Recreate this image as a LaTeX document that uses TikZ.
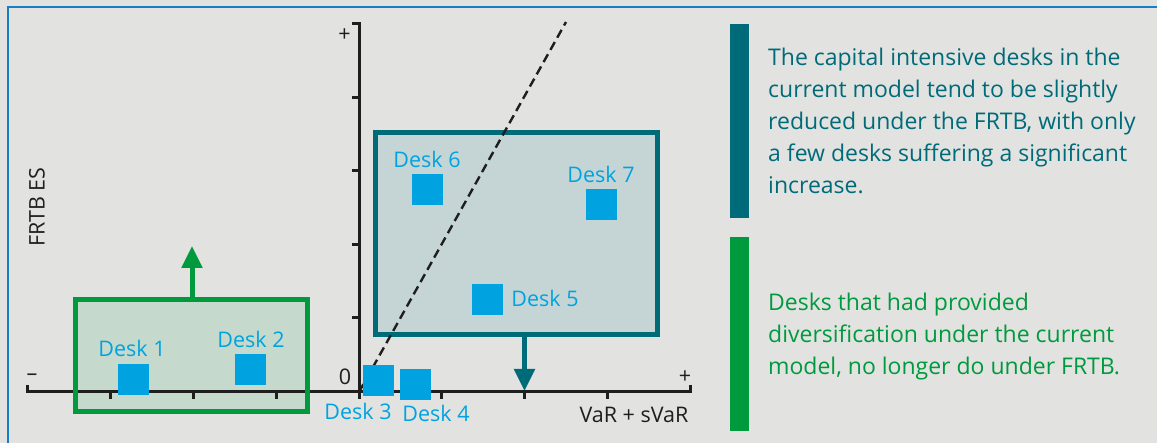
\documentclass[tikz,border=0pt]{standalone}
\usepackage{fontspec}
\setmainfont{Open Sans}
\usetikzlibrary{arrows.meta}
\definecolor{bg}{HTML}{E2E2E1}
\definecolor{frame}{HTML}{1A7EC2}
\definecolor{deskblue}{HTML}{00A3E0}
\definecolor{teal}{HTML}{006B78}
\definecolor{grn}{HTML}{009A3E}
\definecolor{gfill}{HTML}{C5D9CD}
\definecolor{tfill}{HTML}{C5D5D6}
\definecolor{axisc}{HTML}{1E1E1E}
\tikzset{
  desk/.style={fill=deskblue, minimum size=31pt, inner sep=0pt, outer sep=0pt},
  desklabel/.style={text=deskblue, inner sep=0pt, font=\fontsize{21.5}{24}\selectfont},
  axisline/.style={draw=axisc, line width=3pt},
  axislabel/.style={text=axisc, inner sep=0pt, font=\fontsize{21.5}{24}\selectfont},
  boxfill/.style={inner sep=0pt, outer sep=0pt},
  boxline/.style={draw=#1, line width=5pt, inner sep=0pt, outer sep=0pt},
  moveup/.style={draw=#1, line width=5pt, -{Triangle[width=20pt,length=22pt]}},
  sidebar/.style={inner sep=0pt, outer sep=0pt, minimum width=19pt},
  sidetext/.style={inner sep=0pt, align=left, anchor=base west, font=\fontsize{23}{32}\selectfont},
}
\begin{document}
\begin{tikzpicture}[x=1pt,y=-1pt]
\fill[bg] (0,0) rectangle (1157,443);
\useasboundingbox (0,0) rectangle (1157,443);
% frame
\draw[frame, line width=1.6pt] (8,443) -- (8,7) -- (1157,7);

% box fills
\node[boxfill, fill=gfill, minimum width=232pt, minimum height=112pt] (gfillbox) at (191.5,355.5) {};
\node[boxfill, fill=tfill, minimum width=282pt, minimum height=202pt] (tfillbox) at (516.5,233.5) {};

% axes
\coordinate (O) at (359,392);
\coordinate (ytop) at (359,24);
\coordinate (xleft) at (27,392);
\coordinate (xright) at (690,392);
\draw[axisline] ([xshift=-7pt]ytop) -- (ytop) -- (O);
\draw[axisline] ([yshift=7pt]xleft) -- (xleft) -- (xright) -- ([yshift=7pt]xright);
\foreach \xx in {110,193,276,359,441.5,524.5,607}
  \draw[axisline] (\xx,392) -- (\xx,399);
\foreach \yy in {98,171,245,318}
  \draw[axisline] (352,\yy) -- (359,\yy);

\node[axislabel] (plustop) at (344.5,35) {+};
\node[axislabel] (plusright) at (685,377) {+};
\node[axislabel] (minusleft) at (32,377) {–};
\node[axislabel] (zero) at (345,377) {0};
\node[axislabel] (xlab) at (634,415) {VaR + sVaR};
\node[axislabel, rotate=90] (ylab) at (37,207) {FRTB ES};

% box borders
\node[boxline=grn, minimum width=232pt, minimum height=112pt] (gbox) at (191.5,355.5) {};
\node[boxline=teal, minimum width=282pt, minimum height=202pt] (tbox) at (516.5,233.5) {};

% arrows
\coordinate (gtip) at (192,246);
\draw[moveup=grn] (gbox.north -| gtip) -- (gtip);
\coordinate (ttip) at (524.5,391);
\draw[moveup=teal] (tbox.south -| ttip) -- (ttip);

% dashed line
\coordinate (dtop) at (566,22);
\draw[axisc, line width=2.4pt, dash pattern=on 9pt off 5pt] (O) -- (dtop);

% desks
\node[desk] (d1) at (133.5,379.5) {};
\node[desk] (d2) at (250.5,369.5) {};
\node[desk] (d3) at (378.5,380.5) {};
\node[desk] (d4) at (415.5,384.5) {};
\node[desk] (d5) at (487.5,299.5) {};
\node[desk] (d6) at (427.5,189.5) {};
\node[desk] (d7) at (601.5,204.5) {};
\node[desklabel] (l1) at (132,348) {Desk 1};
\node[desklabel] (l2) at (251,339) {Desk 2};
\node[desklabel] (l3) at (358,411) {Desk 3};
\node[desklabel] (l4) at (436,413) {Desk 4};
\node[desklabel] (l5) at (545,298) {Desk 5};
\node[desklabel] (l6) at (427,159) {Desk 6};
\node[desklabel] (l7) at (601,174) {Desk 7};

% side bars and texts
\node[sidebar, fill=teal, minimum height=194pt, anchor=north west] (tbar) at (730,24) {};
\node[sidebar, fill=grn, minimum height=194pt, anchor=north west] (gbar) at (730,237) {};
\node[sidetext, text=teal] (ttext) at (768,194) {The capital intensive desks in the\\current model tend to be slightly\\reduced under the FRTB, with only\\a few desks suffering a significant\\increase.};
\node[sidetext, text=grn] (gtext) at (768,375) {Desks that had provided\\diversification under the current\\model, no longer do under FRTB.};
\end{tikzpicture}
\end{document}
